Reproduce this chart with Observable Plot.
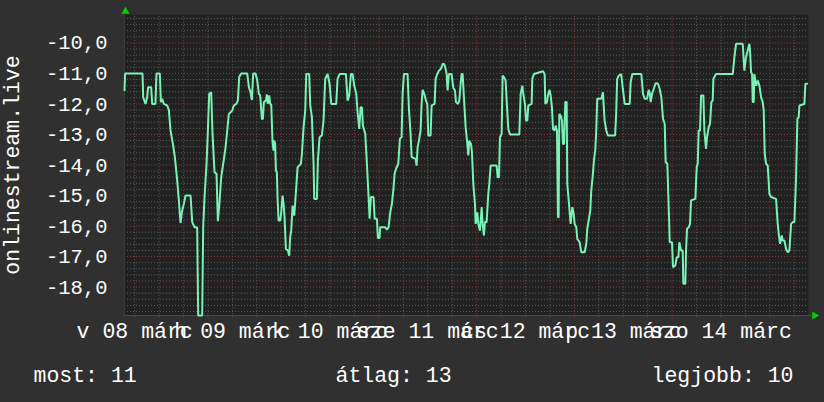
<!DOCTYPE html>
<html><head><meta charset="utf-8">
<script src="https://cdn.jsdelivr.net/npm/d3@7"></script>
<script src="https://cdn.jsdelivr.net/npm/@observablehq/plot@0.6"></script>
<style>html,body{margin:0;padding:0;background:#303030;overflow:hidden}</style>
</head><body><div id="chart"></div>
<script>
// hours since 08 márc 09:30
const hours = [0,0.15,4.42,4.59,5.16,5.57,5.81,6.55,6.8,7.6,7.86,8.68,8.93,9.25,9.66,10.48,10.9,11.3,11.88,12.37,12.94,13.35,13.76,14.17,14.58,14.99,16.22,16.63,17.2,17.85,18.1,19.08,19.33,19.66,20.15,20.48,20.8,21.29,21.62,22.11,22.6,22.93,23.34,23.75,24.24,24.82,25.23,25.63,26.45,26.86,27.44,27.85,28.17,28.66,30.14,30.55,30.96,31.29,31.61,32.19,32.6,33.0,
33.33,33.74,33.99,34.23,34.72,34.97,35.21,35.54,35.79,36.04,36.36,36.61,36.77,37.0,37.18,37.43,37.59,37.84,38.25,38.49,38.82,39.07,39.31,39.64,40.13,40.46,40.7,40.95,41.28,41.69,41.93,42.18,42.51,42.92,43.32,43.57,43.98,44.39,44.64,45.37,45.62,46.03,46.44,46.6,47.26,47.5,47.91,48.48,48.89,49.05,49.3,49.88,50.37,50.78,52.0,52.33,52.83,54.38,54.79,55.2,55.61,56.02,56.43,56.92,57.25,57.66,57.99,58.31,58.56,59.13,59.54,59.95,60.2,60.52,61.18,61.43,62.0,62.24,62.65,62.81,64.04,64.45,64.86,65.27,65.68,66.09,66.34,66.67,
67.24,67.65,68.06,68.3,68.63,69.53,69.86,70.27,70.52,71.5,71.74,71.99,72.32,72.73,72.97,73.22,73.63,74.04,74.37,74.61,75.18,75.43,76.17,76.41,76.82,77.23,77.72,78.13,78.54,78.87,79.12,79.36,79.69,80.34,80.75,81.16,81.41,81.9,82.23,82.56,82.8,83.05,83.46,83.79,84.2,84.44,84.69,85.1,85.34,85.67,86.08,86.24,86.65,86.9,87.31,87.72,87.96,88.29,88.53,88.94,89.35,89.6,89.93,91.4,91.65,91.97,92.22,92.63,92.87,93.2,93.61,93.86,94.27,94.68,96.97,97.3,97.71,97.95,98.36,98.61,98.94,99.18,100.0,100.16,100.57,
102.79,103.19,103.36,103.77,104.01,104.42,104.67,104.99,105.24,105.65,105.9,106.22,106.47,106.63,106.8,107.12,107.45,107.7,107.94,108.27,108.6,108.76,109.17,109.58,109.99,110.32,110.56,110.97,111.21,111.79,112.2,113.01,113.42,113.66,114.07,114.4,114.64,115.05,115.3,115.62,115.87,116.11,117.1,117.51,117.92,118.33,118.71,120.5,120.76,121.0,121.41,122.0,122.4,122.85,124.08,124.32,124.73,126.94,127.35,127.76,128.34,128.75,128.99,129.24,129.57,129.98,130.47,131.04,131.45,131.86,132.27,132.68,132.92,133.33,133.74,133.91,134.48,134.72,
135.3,135.63,136.04,136.28,136.69,137.1,137.26,137.76,137.92,138.17,138.57,138.9,139.15,140.21,140.54,140.79,141.03,141.36,141.61,142.18,142.42,142.83,143.08,143.49,143.81,144.14,144.47,144.64,144.88,145.29,149.39,149.8,150.2,151.84,152.25,152.66,153.07,153.48,153.64,153.89,154.14,154.3,154.55,154.71,155.12,155.53,155.94,156.35,156.76,157.0,157.25,157.58,157.99,158.4,158.8,160.03,160.44,160.69,161.02,161.43,161.67,162.08,162.49,162.9,163.31,163.72,164.13,164.54,164.95,165.27,165.6,165.77,166.99,167.24,167.65];
const values = [-11.55,-11.0,-11.0,-11.78,-12.0,-11.78,-11.45,-11.45,-12.0,-12.0,-11.0,-11.0,-11.94,-11.83,-12.0,-12.05,-12.2,-12.87,-13.3,-13.74,-14.5,-15.16,-15.9,-15.49,-15.27,-15.0,-15.0,-15.87,-16.04,-16.04,-18.93,-18.93,-16.04,-15.05,-13.96,-12.87,-11.67,-11.62,-12.98,-14.24,-14.29,-15.84,-15.22,-14.4,-13.96,-13.42,-12.87,-12.33,-12.22,-12.05,-12.0,-11.89,-11.12,-11.0,-11.0,-11.45,-11.62,-11.87,-11.0,-11.0,-11.23,-11.67,
-11.72,-12.49,-12.49,-11.94,-11.89,-11.69,-12.0,-11.72,-12.0,-12.02,-13.25,-13.53,-13.2,-13.31,-14.18,-14.24,-15.05,-15.82,-15.82,-15.55,-15.0,-15.27,-15.71,-16.75,-16.8,-16.97,-16.36,-16.15,-15.33,-15.66,-15.22,-14.73,-14.07,-14.02,-13.96,-13.64,-12.76,-12.22,-11.02,-11.02,-12.05,-12.43,-13.96,-15.11,-15.11,-13.85,-13.09,-13.03,-12.54,-12.0,-11.18,-11.02,-11.34,-12.0,-12.0,-11.18,-11.02,-11.02,-11.89,-11.72,-11.02,-11.02,-11.4,-11.67,-12.27,-12.82,-12.11,-12.11,-12.71,-12.98,-13.96,-15.05,-15.76,-15.05,-15.05,-15.76,-15.76,-16.39,-16.39,-16.04,-16.04,-16.12,-16.04,-15.55,-15.27,-14.73,-14.29,-14.13,
-13.96,-13.14,-13.09,-11.67,-11.02,-11.02,-12.16,-12.98,-13.74,-13.8,-14.02,-13.42,-13.2,-12.87,-12.0,-11.54,-11.67,-11.89,-12.0,-13.03,-13.03,-12.05,-12.0,-11.18,-11.02,-10.91,-10.85,-10.69,-10.69,-10.85,-11.02,-11.56,-11.02,-11.02,-11.47,-11.56,-11.94,-12.0,-11.89,-11.34,-11.02,-11.02,-12.0,-12.76,-13.31,-13.69,-13.2,-13.31,-13.58,-14.62,-15.27,-15.93,-15.55,-15.93,-16.15,-15.38,-15.93,-16.31,-15.87,-15.87,-14.95,-14.62,-14.02,-14.02,-14.4,-14.4,-13.09,-12.98,-11.07,-11.12,-11.23,-11.89,-12.82,-13.0,-13.0,-11.67,-11.4,-11.67,-12.0,-12.54,-12.54,-12.05,-12.0,-11.18,-11.02,
-10.93,-11.02,-12.0,-11.94,-11.72,-11.54,-11.72,-12.11,-12.82,-12.87,-12.71,-12.87,-15.71,-15.71,-12.33,-12.38,-12.54,-13.31,-13.31,-11.94,-11.94,-14.62,-15.27,-15.93,-15.38,-15.6,-15.93,-16.04,-16.42,-16.53,-16.86,-16.86,-16.58,-16.09,-15.76,-15.49,-14.84,-14.29,-13.85,-13.53,-12.87,-11.83,-11.83,-11.62,-12.54,-12.87,-13.03,-13.03,-12.33,-11.18,-11.07,-11.02,-11.51,-12.0,-12.0,-11.29,-11.02,-11.02,-11.67,-11.83,-11.83,-11.54,-11.62,-11.94,-11.67,-11.51,-11.32,-11.34,-11.51,-11.78,-12.49,-12.65,-13.91,-13.96,-15.71,-16.53,-16.53,-17.35,
-17.29,-17.02,-17.02,-16.53,-16.8,-16.8,-17.89,-17.89,-16.8,-16.09,-16.04,-15.93,-15.16,-15.11,-14.07,-13.96,-12.87,-12.87,-11.72,-11.72,-12.87,-13.47,-13.09,-12.76,-12.65,-11.94,-11.89,-11.18,-11.12,-11.02,-11.02,-10.47,-10.03,-10.03,-10.91,-10.47,-10.25,-10.03,-10.25,-10.96,-11.02,-11.94,-11.94,-11.02,-11.4,-11.23,-11.4,-11.78,-11.94,-12.22,-13.64,-13.96,-14.02,-14.95,-15.05,-15.11,-15.93,-16.26,-16.58,-16.31,-16.47,-16.47,-16.75,-16.86,-16.8,-15.93,-15.87,-15.87,-14.4,-12.49,-12.43,-12.05,-12.0,-11.34,-11.34];

const yTicks = [-18,-17,-16,-15,-14,-13,-12,-11,-10];
const dayLabels = ["v 08 márc","h 09 márc","k 10 márc","sze 11 márc","cs 12 márc","p 13 márc","szo 14 márc"];
const labelHours = [2.5,26.5,50.5,74.5,98.5,122.5,146.5];   // noon of each day
const midnightHours = [14.5,38.5,62.5,86.5,110.5,134.5,158.5];
const sixHourLines = d3.range(2.5, 168, 6);
const minorY = d3.range(-18.8, -9.1, 0.2).map(v => Math.round(v*10)/10);
const yTitle = "onlinestream.live";
const legendTexts = ["most: 11","átlag: 13","legjobb: 10"];

const data = hours.map((h,i) => ({h, v: values[i]}));
const Y0 = -18.93, Y1 = -9.07;
const font = "'Liberation Mono', 'DejaVu Sans Mono', monospace";
const big = 21.5;

const chart = Plot.plot({
  width: 824, height: 402,
  marginLeft: 124, marginRight: 16, marginTop: 14, marginBottom: 87,
  style: {background: "#303030", color: "#ffffff", fontFamily: font, fontSize: "20px"},
  x: {domain: [0, 168], axis: null},
  y: {domain: [Y0, Y1], axis: null},
  marks: [
    Plot.frame({fill: "#212121", stroke: null}),
    Plot.ruleY(minorY.filter(v => Math.abs(v - Math.round(v)) > 0.01), {stroke: "#5c5c5c", strokeDasharray: "1,2"}),
    Plot.ruleX(sixHourLines.filter(h => !midnightHours.includes(h)), {y1: Y0 - 0.07, y2: Y1, stroke: "#5c5c5c", strokeDasharray: "1,2"}),
    Plot.ruleY(yTicks, {stroke: "#8a3838", strokeDasharray: "1,2"}),
    Plot.ruleX(midnightHours, {y1: Y0 - 0.07, y2: Y1, stroke: "#8a3838", strokeDasharray: "1,2"}),
    Plot.ruleY([Y0], {stroke: "#4a4a4a", strokeWidth: 1, x1: 0, x2: 169}),
    Plot.ruleX([0], {stroke: "#3a3a3a"}),
    Plot.line(data, {x: "h", y: "v", stroke: "#78f2b6", strokeWidth: 2, strokeLinejoin: "miter"}),
    Plot.axisY({ticks: yTicks, tickFormat: d => d.toFixed(1).replace(".", ","), tickSize: 0, tickPadding: 17,
      fontSize: 20.5, fill: "#ffffff", label: null, fontFamily: font}),
    Plot.text(dayLabels, {x: (d, i) => labelHours[i], frameAnchor: "bottom", lineAnchor: "middle", dy: 16,
      fill: "#ffffff", fontSize: big, fontFamily: font, textAnchor: "middle"}),
    Plot.text([yTitle], {frameAnchor: "left", rotate: -90, dx: -112, lineAnchor: "middle", textAnchor: "middle",
      fill: "#ffffff", fontSize: big, fontFamily: font}),
    Plot.text([legendTexts[0]], {frameAnchor: "bottom-left", dx: 33 - 124, dy: 60, lineAnchor: "middle", textAnchor: "start",
      fill: "#ffffff", fontSize: big, fontFamily: font}),
    Plot.text([legendTexts[1]], {frameAnchor: "bottom-left", dx: 335 - 124, dy: 60, lineAnchor: "middle", textAnchor: "start",
      fill: "#ffffff", fontSize: big, fontFamily: font}),
    Plot.text([legendTexts[2]], {frameAnchor: "bottom-right", dx: 793 - 808, dy: 60, lineAnchor: "middle", textAnchor: "end",
      fill: "#ffffff", fontSize: big, fontFamily: font}),
    Plot.dot([0], {frameAnchor: "top-left", dx: 1, dy: -3, symbol: "triangle", r: 3, fill: "#00d000", stroke: null}),
    Plot.dot([0], {frameAnchor: "bottom-right", dx: 6, dy: 0, symbol: "triangle", r: 3, rotate: 90, fill: "#00d000", stroke: null})
  ]
});
document.getElementById("chart").appendChild(chart);
</script>
</body></html>
